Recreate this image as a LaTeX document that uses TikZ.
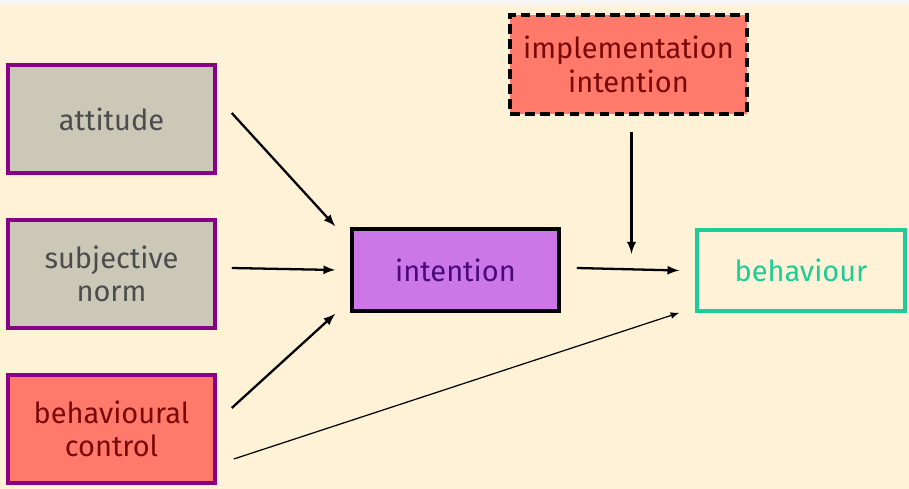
\documentclass[tikz,border=0pt]{standalone}
\usepackage{fontspec}
\setmainfont{Fira Sans}
\usetikzlibrary{calc}
\definecolor{cream}{HTML}{FFF2D6}
\definecolor{greybox}{HTML}{CCC8B8}
\definecolor{salmon}{HTML}{FF7A6A}
\definecolor{lilac}{HTML}{CC77E8}
\definecolor{plum}{HTML}{880088}
\definecolor{mint}{HTML}{1ECC99}
\definecolor{darkred}{HTML}{7A0A0A}
\definecolor{darkplum}{HTML}{4A0A78}
\begin{document}
\begin{tikzpicture}[x=0.02cm,y=-0.02cm,
    box/.style={rectangle,line width=2pt,align=center,inner sep=0pt,font=\fontsize{16.5}{19}\selectfont},
    arr/.style={->,>=latex,line width=1.3pt}]
            \fill[gray!8] (0,0) rectangle (909,489);
            \fill[cream] (0,5) rectangle (909,489);

            \node[box,draw=plum,fill=greybox,text=black!70,minimum width=207*0.02cm,minimum height=108*0.02cm] (att) at (111.5,119) {attitude};
            \node[box,draw=plum,fill=greybox,text=black!70,minimum width=207*0.02cm,minimum height=108*0.02cm] (norm) at (111.5,274) {subjective\\norm};
            \node[box,draw=plum,fill=salmon,text=darkred,minimum width=207*0.02cm,minimum height=108*0.02cm] (pbc) at (111.5,429) {behavioural\\control};
            \node[box,draw=black,dash pattern=on 5.5pt off 3pt,fill=salmon,text=darkred,minimum width=237*0.02cm,minimum height=99*0.02cm] (impl) at (628.5,64.5) {implementation\\intention};
            \node[box,draw=black,fill=lilac,text=darkplum,minimum width=207*0.02cm,minimum height=82*0.02cm] (int) at (455.5,270) {intention};
            \node[box,draw=mint,fill=cream,text=mint,minimum width=208*0.02cm,minimum height=81*0.02cm] (beh) at (801,270.5) {behaviour};

            \coordinate (intA) at ($(int.north west)+(-15,-1)$);
            \coordinate (intB) at ($(int.west)+(-15,0)$);
            \coordinate (intC) at ($(int.south west)+(-15,1)$);
            \coordinate (behA) at ($(beh.west)+(-16,0)$);
            \coordinate (behB) at ($(beh.south west)+(-16,0)$);
            \coordinate (implA) at ($(impl.south)+(3,16)$);
            \coordinate (implB) at ($(impl.south)+(3,138)$);

            \draw[arr] ($(att.east)+(15,-6)$)--(intA);
            \draw[arr] ($(norm.east)+(15,-6)$)--(intB);
            \draw[arr] ($(pbc.east)+(15,-21)$)--(intC);
            \draw[arr] ($(int.east)+(16,-2)$)--(behA);
            \draw[arr] (implA)--(implB);
            \draw[->,>=latex,line width=0.7pt] ($(pbc.east)+(17,30)$)--(behB);
        \end{tikzpicture}
\end{document}
